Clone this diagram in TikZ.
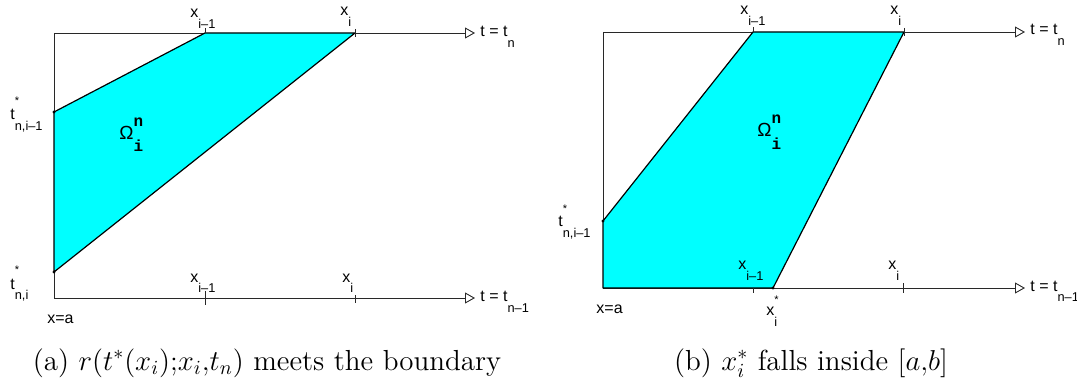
\documentclass[tikz,border=0pt]{standalone}
\usepackage{fontspec}
\usepackage{amsmath}
\usepackage{xcolor}
\usepackage{tikz}
\usetikzlibrary{arrows.meta}
\newfontfamily\lblfont{Liberation Sans}
\newfontfamily\omgfont{Liberation Mono}
\definecolor{regioncyan}{RGB}{0, 255, 255}
\definecolor{axisgray}{RGB}{40, 40, 40}
\newcommand{\sublbl}[2]{#1\raisebox{-5.5pt}{\fontsize{6.4}{7}\selectfont#2}}
\newcommand{\starlbl}[3]{#1\rlap{\raisebox{#2}{\fontsize{5.5}{6}\selectfont*}}\raisebox{-5.5pt}{\fontsize{6.4}{7}\selectfont#3}}
\newcommand{\omglbl}{{\fontsize{9.5}{10}\selectfont Ω}\rlap{\raisebox{6.5pt}{\omgfont\bfseries\fontsize{8}{8}\selectfont n}}\raisebox{-6pt}{\omgfont\bfseries\fontsize{8}{8}\selectfont i}}
\tikzset{
 axisline/.style={
 draw=axisgray,
 line width=0.45pt
 },
 axisarrow/.style={
 axisline,
 -{Triangle[open, length=5pt, width=5.5pt]}
 },
 region/.style={
 fill=regioncyan,
 draw=black,
 line width=0.6pt,
 line join=round
 },
 tickmark/.style={
 draw=axisgray,
 line width=0.45pt
 },
 lbl/.style={
 anchor=base west,
 inner sep=0pt,
 font=\lblfont\fontsize{8}{9}\selectfont
 },
 caption/.style={
 anchor=base,
 inner sep=0pt,
 font=\fontsize{14.5}{16}\selectfont
 },
 dot/.style={fill=black}
}

\begin{document}
\begin{tikzpicture}[x=0.5pt, y=-0.5pt]
 \useasboundingbox (0,0) rectangle (1077,385);

 % panel (a)
 \coordinate (a0) at (54,298);
 \coordinate (aTop) at (54,33);
 \coordinate (aEndT) at (475,33);
 \coordinate (aEndB) at (475,298);
 \coordinate (aT1) at (54,112);
 \coordinate (aT2) at (54,272);
 \coordinate (aX1) at (205,33);
 \coordinate (aX2) at (355,33);
 \coordinate (aB1) at (205,298);
 \coordinate (aB2) at (355,298);

 \draw[axisline] (aTop) -- (a0);
 \draw[axisarrow] (aTop) -- (aEndT);
 \draw[axisarrow] (a0) -- (aEndB);
 \filldraw[region] (aT1) -- (aX1) -- (aX2) -- (aT2) -- cycle;
 \draw[tickmark] (aX1) -- +(0,-5);
 \draw[tickmark] (aX2) ++(0,-4) -- +(0,8);
 \draw[tickmark] (aB1) ++(0,-7) -- +(0,14);
 \draw[tickmark] (aB2) ++(0,-3) -- +(0,8);
 \fill[dot] (aT1) circle (0.8pt);
 \fill[dot] (aT2) circle (0.8pt);

 \node[lbl] (aLx1) at (190,18) {\sublbl{x}{i–1}};
 \node[lbl] (aLx2) at (340,16) {\sublbl{x}{i}};
 \node[lbl] (aLb1) at (190,282) {\sublbl{x}{i–1}};
 \node[lbl] (aLb2) at (342,282) {\sublbl{x}{i}};
 \node[lbl] (aLt1) at (10,120) {\starlbl{t}{8pt}{n,i–1}};
 \node[lbl] (aLt2) at (10,289) {\starlbl{t}{8pt}{n,i}};
 \node[lbl] (aLa) at (47,323) {x=a};
 \node[lbl] (aLtn) at (480,37) {\sublbl{t = t}{n}};
 \node[lbl] (aLtm) at (480,301) {\sublbl{t = t}{n–1}};
 \node[lbl] (aOm) at (119,140) {\omglbl};
 \node[caption] (capA) at (267,370) {(a) $r(t^*(x_i){;}x_i{,}t_n)$ meets the boundary};

 % panel (b)
 \coordinate (b0) at (603,288);
 \coordinate (bTop) at (603,32);
 \coordinate (bEndT) at (1025,32);
 \coordinate (bEndB) at (1025,288);
 \coordinate (bT1) at (603,221);
 \coordinate (bX1) at (753,32);
 \coordinate (bX2) at (904,32);
 \coordinate (bXs) at (773,288);
 \coordinate (bB1) at (753,288);
 \coordinate (bB2) at (903,288);

 \draw[axisline] (bTop) -- (b0);
 \draw[axisarrow] (bTop) -- (bEndT);
 \draw[axisarrow] (b0) -- (bEndB);
 \filldraw[region] (b0) -- (bT1) -- (bX1) -- (bX2) -- (bXs) -- cycle;
 \draw[tickmark] (bX1) -- +(0,-5);
 \draw[tickmark] (bX2) ++(0,-4) -- +(0,8);
 \draw[tickmark] (bB1) -- +(0,5);
 \draw[tickmark] (bB2) ++(0,-5) -- +(0,10);
 \fill[dot] (bT1) circle (0.8pt);
 \fill[dot] (bXs) circle (0.8pt);

 \node[lbl] (bLx1) at (740,15) {\sublbl{x}{i–1}};
 \node[lbl] (bLx2) at (890,15) {\sublbl{x}{i}};
 \node[lbl] (bLb1) at (738,270) {\sublbl{x}{i–1}};
 \node[lbl] (bLb2) at (888,270) {\sublbl{x}{i}};
 \node[lbl] (bLxs) at (766,315) {\starlbl{x}{5.6pt}{i}};
 \node[lbl] (bLt1) at (558,227) {\starlbl{t}{7pt}{n,i–1}};
 \node[lbl] (bLa) at (596,313) {x=a};
 \node[lbl] (bLtn) at (1030,35) {\sublbl{t = t}{n}};
 \node[lbl] (bLtm) at (1030,291) {\sublbl{t = t}{n–1}};
 \node[lbl] (bOm) at (757,137) {\omglbl};
 \node[caption] (capB) at (811,370) {(b) $x_i^*$ falls inside $[a{,}b]$};
\end{tikzpicture}
\end{document}
